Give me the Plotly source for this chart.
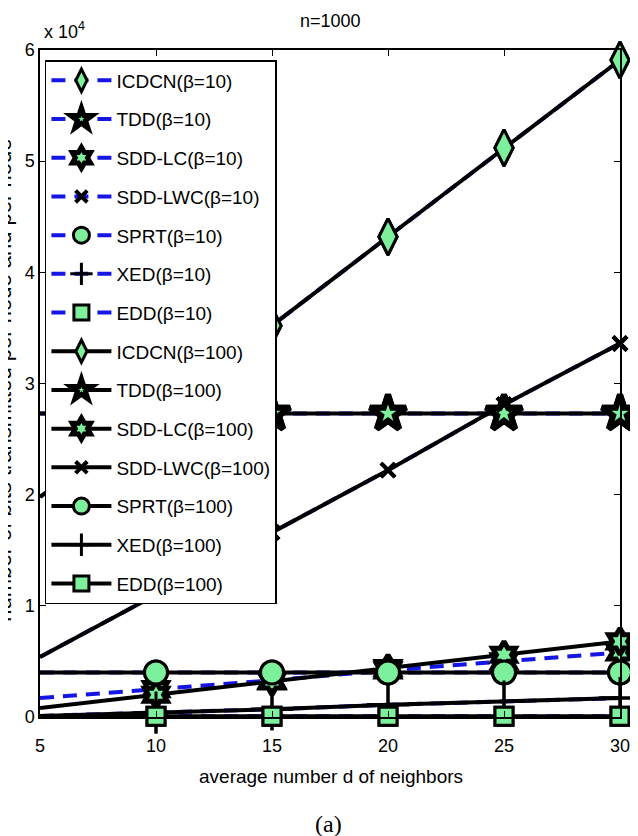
import plotly.graph_objects as go

# ---------------- data ----------------
x_vals = [5, 10, 15, 20, 25, 30]

series_names = ["ICDCN", "TDD", "SDD-LC", "SDD-LWC", "SPRT", "XED", "EDD"]

icdcn_b10 = [19800, 27500, 35200, 43200, 51200, 59100]
tdd_b10 = [27300, 27300, 27300, 27300, 27300, 27300]
sddlc_b10 = [1700, 2500, 3300, 4200, 5000, 5800]
sddlwc_b10 = [5400, 11000, 16600, 22200, 28100, 33600]
sprt_b10 = [4000, 4000, 4000, 4000, 4000, 4000]
xed_b10 = [100, 400, 700, 1100, 1400, 1700]
edd_b10 = [60, 60, 60, 60, 60, 60]

icdcn_b100 = [19800, 27500, 35200, 43200, 51200, 59100]
tdd_b100 = [27300, 27300, 27300, 27300, 27300, 27300]
sddlc_b100 = [800, 2000, 3200, 4400, 5600, 6800]
sddlwc_b100 = [5400, 11000, 16600, 22200, 28100, 33600]
sprt_b100 = [4000, 4000, 4000, 4000, 4000, 4000]
xed_b100 = [100, 400, 700, 1100, 1400, 1700]
edd_b100 = [60, 60, 60, 60, 60, 60]

y_tickvals = [0, 10000, 20000, 30000, 40000, 50000, 60000]
y_ticktext = ["0", "1", "2", "3", "4", "5", "6"]
x_tickvals = [5, 10, 15, 20, 25, 30]

b10 = [icdcn_b10, tdd_b10, sddlc_b10, sddlwc_b10, sprt_b10, xed_b10, edd_b10]
b100 = [icdcn_b100, tdd_b100, sddlc_b100, sddlwc_b100, sprt_b100, xed_b100, edd_b100]

# ---------------- styles ----------------
GREEN = "#7DF09C"
FONT = "Liberation Sans, Arial, sans-serif"

marker_styles = {
    "ICDCN": dict(symbol="diamond-tall", size=26, color=GREEN, line=dict(color="black", width=3)),
    "TDD": dict(symbol="star", size=27, color=GREEN, line=dict(color="black", width=6)),
    "SDD-LC": dict(symbol="hexagram", size=20, color=GREEN, line=dict(color="black", width=5)),
    "SDD-LWC": dict(symbol="x-thin", size=14, color="black", line=dict(color="black", width=4)),
    "SPRT": dict(symbol="circle", size=23, color=GREEN, line=dict(color="black", width=3)),
    "XED": dict(symbol="cross-thin", size=30, color="black", line=dict(color="black", width=3)),
    "EDD": dict(symbol="square", size=18, color=GREEN, line=dict(color="black", width=3)),
}

fig = go.Figure()


def add_series(name, beta, yv, line_color, dash):
    ms = dict(marker_styles[name])
    base = ms["size"]
    ms["size"] = [0] + [base] * (len(x_vals) - 1)
    ms["opacity"] = 1
    label = f"{name}(\u03b2={beta})"
    fig.add_trace(go.Scatter(
        x=x_vals, y=yv, name=label, mode="lines+markers",
        line=dict(color=line_color, width=4, dash=dash),
        marker=ms, cliponaxis=False, legendgroup=label,
    ))


for n, yv in zip(series_names, b10):
    add_series(n, 10, yv, "#1515E6", "14px,9px")
for n, yv in zip(series_names, b100):
    add_series(n, 100, yv, "black", "solid")

# page has an 8px body margin: figure coordinates = page coordinates - 8
OFF = 8
W, H = 638 - OFF, 836 - OFF
L, T = 40 - OFF, 50 - OFF
R = W - (630 - OFF)
B = H - (717 - OFF)
pw, ph = W - L - R, H - T - B


def px(xp):
    return (xp - OFF - L) / pw


def py(yp):
    return (H - B - (yp - OFF)) / ph


fig.update_layout(
    width=W, height=H,
    margin=dict(l=L, r=R, t=T, b=B),
    paper_bgcolor="white", plot_bgcolor="white",
    font=dict(family=FONT, size=18, color="black"),
    showlegend=True,
    legend=dict(
        x=px(45), y=py(60), xanchor="left", yanchor="top",
        bgcolor="white", bordercolor="black", borderwidth=1.5,
        font=dict(family=FONT, size=19, color="black"),
        tracegroupgap=11, itemwidth=60, traceorder="grouped",
        itemsizing="trace",
    ),
    xaxis=dict(
        range=[5, 30], tickvals=x_tickvals, ticks="inside", ticklen=6,
        tickcolor="black", showline=True, linecolor="black", linewidth=1.5,
        mirror="ticks", showgrid=False, zeroline=False,
        tickfont=dict(family=FONT, size=18), ticklabeloverflow="allow",
        ticklabelstandoff=12,
    ),
    yaxis=dict(
        range=[0, 60000], tickvals=y_tickvals, ticktext=y_ticktext,
        ticks="inside", ticklen=6, tickcolor="black", showline=True,
        linecolor="black", linewidth=1.5, mirror="ticks", showgrid=False,
        zeroline=False, tickfont=dict(family=FONT, size=18),
    ),
    annotations=[
        dict(text="n=1000", x=px(335), y=py(21), xref="paper", yref="paper",
             showarrow=False, font=dict(family=FONT, size=18), xanchor="center", yanchor="middle"),
        dict(text="x 10<sup>4</sup>", x=px(42), y=py(30), xref="paper", yref="paper",
             showarrow=False, font=dict(family=FONT, size=18), xanchor="left", yanchor="middle"),
        dict(text="average number d of neighbors", x=px(336), y=py(777), xref="paper", yref="paper",
             showarrow=False, font=dict(family=FONT, size=19), xanchor="center", yanchor="middle"),
        dict(text="(a)", x=px(333), y=py(824), xref="paper", yref="paper",
             showarrow=False, font=dict(family="Liberation Serif, Times New Roman, serif", size=24),
             xanchor="center", yanchor="middle"),
        dict(text="number of bits transmitted per node and per node", x=px(3), y=py(380),
             xref="paper", yref="paper", showarrow=False, textangle=-90,
             font=dict(family=FONT, size=22), xanchor="center", yanchor="middle"),
    ],
)

fig.write_html("out.html")
